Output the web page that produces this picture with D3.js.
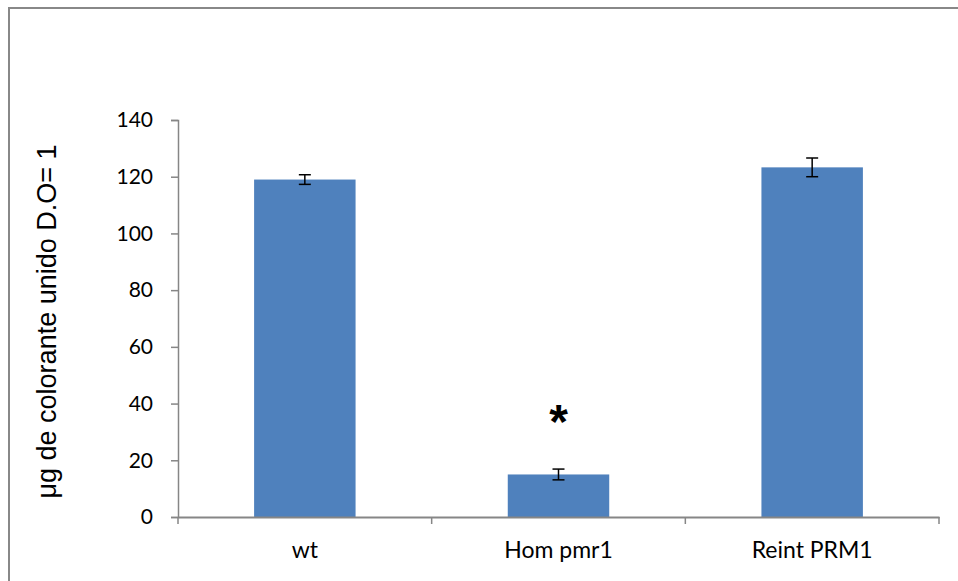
<!DOCTYPE html>
<html><head><meta charset="utf-8">
<script src="https://cdn.jsdelivr.net/npm/d3@7"></script>
<style>body{margin:0;background:#fff}svg{display:block}</style>
</head><body>
<script>
const categories = ["wt", "Hom pmr1", "Reint PRM1"];
const values = [119, 15, 123.3];
const errors = [1.7, 1.9, 3.3];
const yTicks = [0, 20, 40, 60, 80, 100, 120, 140];
const significance = ["", "*", ""];
const yLabel = "μg de colorante unido D.O= 1";

const W = 958, H = 581;
const svg = d3.select("body").append("svg").attr("width", W).attr("height", H);
svg.append("rect").attr("width", W).attr("height", H).attr("fill", "#fff");
svg.append("path").attr("d", `M9,${H} L9,8 L${W},8`).attr("fill", "none").attr("stroke", "#888").attr("stroke-width", 2);

const x0 = 178, x1 = 939, yTop = 120, yBot = 517;
const x = d3.scaleBand().domain(categories).range([x0, x1]).paddingInner(0.6).paddingOuter(0.3);
const y = d3.scaleLinear().domain([0, 140]).range([yBot, yTop]);
const xb = d3.scaleBand().domain(categories).range([x0, x1]);
const tickFont = "Lato, 'Open Sans', sans-serif";

svg.selectAll("rect.bar").data(categories).enter().append("rect")
  .attr("x", d => x(d)).attr("width", x.bandwidth())
  .attr("y", (d, i) => y(values[i])).attr("height", (d, i) => y(0) - y(values[i]))
  .attr("fill", "#4f81bd");

const yAxis = svg.append("g").attr("transform", `translate(${x0},0)`)
  .call(d3.axisLeft(y).tickValues(yTicks).tickSize(7).tickPadding(18));
yAxis.select(".domain").attr("stroke", "#868686").attr("stroke-width", 1.5);
yAxis.selectAll(".tick line").attr("stroke", "#868686").attr("stroke-width", 1.5);
yAxis.selectAll("text").attr("font-family", tickFont).attr("font-size", 21).attr("fill", "#000");

const xAxis = svg.append("g").attr("transform", `translate(0,${yBot})`)
  .call(d3.axisBottom(xb).tickSize(0).tickPadding(0));
xAxis.select(".domain").attr("stroke", "#868686").attr("stroke-width", 2);
xAxis.selectAll("text").attr("font-family", tickFont).attr("font-size", 23).attr("fill", "#000")
  .attr("y", 41).attr("dy", null);
const bounds = [x0].concat(categories.map(c => xb(c) + xb.bandwidth()));
svg.selectAll("line.xt").data(bounds).enter().append("line")
  .attr("x1", d => d).attr("x2", d => d).attr("y1", yBot).attr("y2", yBot + 7)
  .attr("stroke", "#868686").attr("stroke-width", 1.5);

const eg = svg.append("g").attr("stroke", "#000").attr("stroke-width", 1.5);
categories.forEach((c, i) => {
  const cx = x(c) + x.bandwidth() / 2;
  const t = y(values[i] + errors[i]), b = y(values[i] - errors[i]);
  eg.append("line").attr("x1", cx).attr("x2", cx).attr("y1", t).attr("y2", b);
  eg.append("line").attr("x1", cx - 6).attr("x2", cx + 6).attr("y1", t).attr("y2", t);
  eg.append("line").attr("x1", cx - 6).attr("x2", cx + 6).attr("y1", b).attr("y2", b);
});

svg.selectAll("text.sig").data(categories).enter().append("text")
  .attr("x", d => x(d) + x.bandwidth() / 2)
  .attr("y", (d, i) => y(values[i]) - 36)
  .attr("text-anchor", "middle").attr("font-family", "'Liberation Sans', Arial, sans-serif").attr("font-weight", "bold")
  .attr("font-size", 48).text((d, i) => significance[i]);

svg.append("text").attr("transform", `translate(56,${(yTop + yBot) / 2 + 3}) rotate(-90)`)
  .attr("text-anchor", "middle").attr("font-family", "'Liberation Sans', Arial, sans-serif")
  .attr("font-size", 27).attr("fill", "#000").text(yLabel);
</script>
</body></html>
